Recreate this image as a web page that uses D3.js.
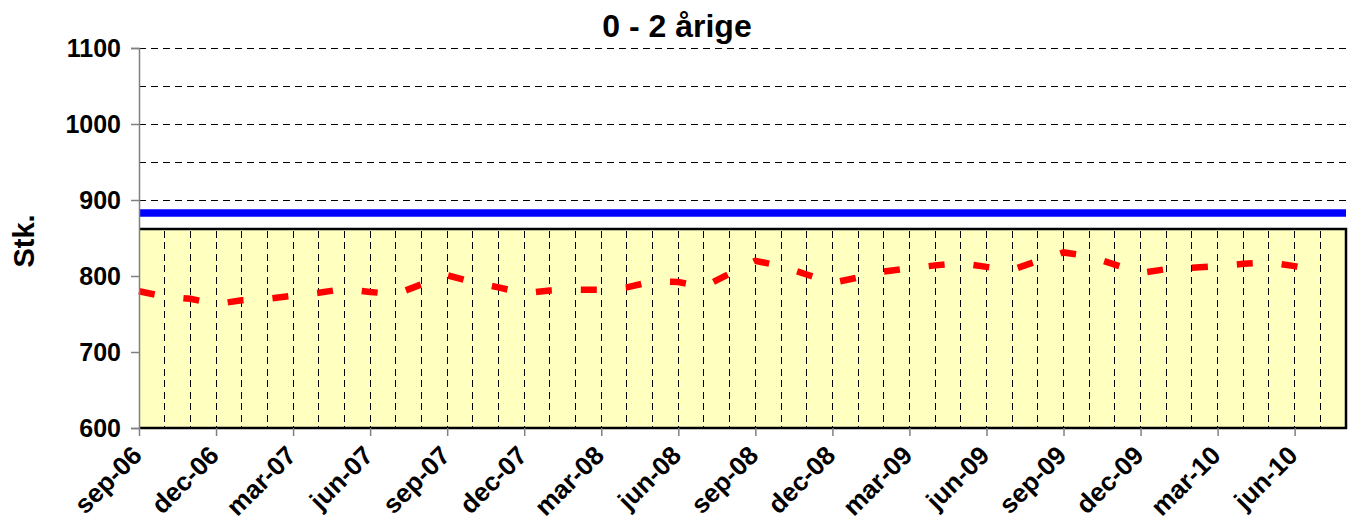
<!DOCTYPE html>
<html>
<head>
<meta charset="utf-8">
<script src="https://cdn.jsdelivr.net/npm/d3@7/dist/d3.min.js"></script>
<style>
  html, body { margin: 0; padding: 0; background: #fff; }
  svg { display: block; font-family: "Liberation Sans", Arial, sans-serif; }
</style>
</head>
<body>
<svg id="chart" width="1354" height="527"></svg>
<script>
// ---- data ----
const months = [
  "sep-06","oct-06","nov-06","dec-06",
  "jan-07","feb-07","mar-07","apr-07","may-07","jun-07","jul-07","aug-07","sep-07","oct-07","nov-07","dec-07",
  "jan-08","feb-08","mar-08","apr-08","may-08","jun-08","jul-08","aug-08","sep-08","oct-08","nov-08","dec-08",
  "jan-09","feb-09","mar-09","apr-09","may-09","jun-09","jul-09","aug-09","sep-09","oct-09","nov-09","dec-09",
  "jan-10","feb-10","mar-10","apr-10","may-10","jun-10","jul-10","aug-10"
];
const tickLabels = ["sep-06","dec-06","mar-07","jun-07","sep-07","dec-07","mar-08","jun-08",
  "sep-08","dec-08","mar-09","jun-09","sep-09","dec-09","mar-10","jun-10"];
const actual = [780,773,770,763,768,770,774,778,783,779,776,789,801,792,785,777,
  781,782,782,785,793,792,786,803,820,813,802,791,798,806,810,814,817,812,808,820,
  831,826,815,804,809,811,813,816,818,813,806];
const normValue = 883;
const capacityValue = 862;
const yTicks = [600,700,800,900,1000,1100];
const yGrid = [650,700,750,800,850,900,950,1000,1050,1100];
const chartTitle = "0 - 2 årige";
const yTitle = "Stk.";

// ---- layout ----
const svg = d3.select("#chart");
const pLeft = 139, pRight = 1346, pTop = 48, pBottom = 428;

const x = d3.scalePoint().domain(months).range([pLeft, pRight]);
const y = d3.scaleLinear().domain([600, 1100]).range([pBottom, pTop]);

// horizontal gridlines
svg.append("g").selectAll("line").data(yGrid).join("line")
  .attr("x1", pLeft).attr("x2", pRight)
  .attr("y1", d => y(d)).attr("y2", d => y(d))
  .attr("stroke", "#000").attr("stroke-width", 1)
  .attr("shape-rendering", "crispEdges")
  .attr("stroke-dasharray", "7,5");

// capacity area (yellow)
const firstM = months[0], lastM = months[months.length - 1];
svg.append("rect")
  .attr("x", x(firstM)).attr("y", y(capacityValue))
  .attr("width", x(lastM) - x(firstM)).attr("height", y(600) - y(capacityValue))
  .attr("fill", "#FFFFC0");

// vertical monthly dashed lines inside area
svg.append("g").selectAll("line").data(months.slice(1, -1)).join("line")
  .attr("x1", d => x(d)).attr("x2", d => x(d))
  .attr("y1", y(capacityValue) + 2).attr("y2", y(600))
  .attr("stroke", "#000").attr("stroke-width", 1)
  .attr("shape-rendering", "crispEdges")
  .attr("stroke-dasharray", "7,4.5");

// area border
svg.append("path")
  .attr("d", `M${x(firstM)},${y(capacityValue)}H${x(lastM)}V${y(600)}H${x(firstM)}`)
  .attr("fill", "none").attr("stroke", "#000").attr("stroke-width", 2.5);

// norm line (blue)
svg.append("line")
  .attr("x1", x(firstM)).attr("x2", x(lastM))
  .attr("y1", y(normValue)).attr("y2", y(normValue))
  .attr("stroke", "#0000FF").attr("stroke-width", 7.5);

// actual line (red dashed)
const line = d3.line().x((d, i) => x(months[i])).y(d => y(d));
svg.append("path").datum(actual)
  .attr("d", line)
  .attr("fill", "none").attr("stroke", "#FF0000").attr("stroke-width", 6.5)
  .attr("stroke-dasharray", "16,29").attr("stroke-linecap", "butt");

// y axis
const yAxis = svg.append("g").attr("transform", `translate(${pLeft},0)`)
  .call(d3.axisLeft(y).tickValues(yTicks).tickSize(8).tickPadding(10).tickFormat(d3.format("d")));
yAxis.select(".domain").attr("stroke", "#808080").attr("stroke-width", 1.5);
yAxis.selectAll(".tick line").attr("stroke", "#808080").attr("stroke-width", 1.5);
yAxis.selectAll("text").attr("font-size", 25).attr("font-weight", "bold")
  .attr("font-family", "Liberation Sans, Arial, sans-serif").attr("fill", "#000");

// x axis
const xAxis = svg.append("g").attr("transform", `translate(0,${pBottom})`)
  .call(d3.axisBottom(x).tickValues(tickLabels).tickSize(8).tickSizeOuter(0));
xAxis.select(".domain").remove();
xAxis.selectAll(".tick line").attr("stroke", "#808080").attr("stroke-width", 1.5);
xAxis.selectAll("text")
  .attr("font-size", 26).attr("font-weight", "bold")
  .attr("font-family", "Liberation Sans, Arial, sans-serif").attr("fill", "#000")
  .attr("text-anchor", "end")
  .attr("x", 0).attr("y", 0)
  .attr("dy", "0.71em")
  .attr("transform", "translate(-9,16) rotate(-45)");

// title
svg.append("text").attr("x", 677).attr("y", 37).attr("text-anchor", "middle")
  .attr("font-size", 32).attr("font-weight", "bold").text(chartTitle);

// y title
svg.append("text").attr("transform", `translate(34,241) rotate(-90)`)
  .attr("text-anchor", "middle").attr("font-size", 29).attr("font-weight", "bold").text(yTitle);
</script>
</body>
</html>
